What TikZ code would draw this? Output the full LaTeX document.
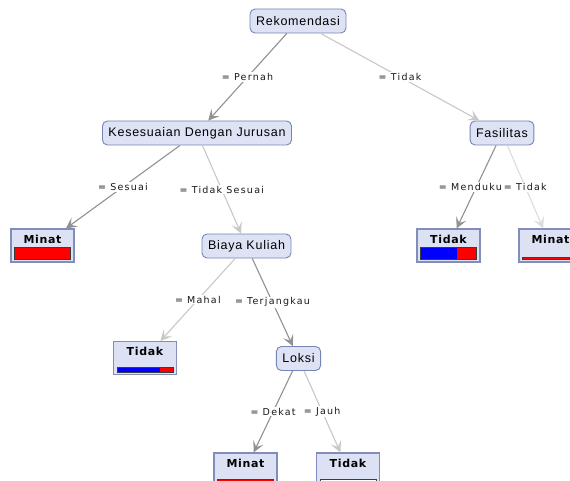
\documentclass[tikz,border=0pt]{standalone}
\usepackage{fontspec}
\setmainfont{Liberation Sans}
\newfontfamily\splitfont[LetterSpace=6]{Liberation Sans}
\newfontfamily\leaffont[LetterSpace=6]{DejaVu Sans}
\newfontfamily\condfont[LetterSpace=13]{DejaVu Sans}
\usetikzlibrary{arrows.meta,calc}

\definecolor{splitfill}{RGB}{221,227,245}
\definecolor{splitborder}{RGB}{118,133,180}
\definecolor{leaffill}{RGB}{220,226,244}
\definecolor{leafborder}{RGB}{130,142,185}
\definecolor{edgedark}{RGB}{145,145,145}
\definecolor{edgelight}{RGB}{200,200,200}
\definecolor{edgelighter}{RGB}{220,220,220}
\definecolor{barred}{RGB}{255,0,0}
\definecolor{barblue}{RGB}{0,0,255}
\definecolor{barborder}{RGB}{60,60,60}

\tikzset{>={Stealth[length=11pt,width=11pt,inset=5pt]}}
\tikzset{
  split/.style={draw=splitborder, fill=splitfill, rounded corners=5pt, minimum height=24pt,
    inner xsep=6pt, inner ysep=0pt, line width=0.9pt, font=\splitfont\fontsize{12.5}{14}\selectfont},
  leaf/.style={draw=leafborder, fill=leaffill, minimum width=63pt, inner xsep=0pt, inner ysep=3pt,
    line width=1.1pt, text height=11pt, text depth=16pt, font=\leaffont\bfseries\fontsize{11}{13}\selectfont},
  cond/.style={fill=white, inner sep=1pt, text=black!90, font=\condfont\fontsize{9.5}{10}\selectfont},
  heavy/.style={->, draw=edgedark, line width=1.1pt},
  light/.style={->, draw=edgelight, line width=1.1pt},
  lighter/.style={->, draw=edgelighter, line width=1.1pt},
  bar/.style={draw=barborder, line width=0.8pt},
}

\begin{document}
\begin{tikzpicture}[x=1pt,y=-1pt]

    \useasboundingbox[fill=white] (0,0) rectangle (570,481);

    % split nodes
    \node[split] (rek) at (298,21) {Rekomendasi};
    \node[split] (kes) at (197,133) {Kesesuaian Dengan Jurusan};
    \node[split] (fas) at (502,133) {Fasilitas};
    \node[split] (biaya) at (246.5,246) {Biaya Kuliah};
    \node[split] (loksi) at (298.5,358.5) {Loksi};

    % leaves
    \node[leaf] (m1) at (42.5,245.5) {Minat};
    \node[leaf] (t1) at (448.5,245.5) {Tidak};
    \node[leaf] (m2) at (550.5,245.5) {Minat};
    \node[leaf] (t2) at (145,358) {Tidak};
    \node[leaf] (m3) at (245.5,469.5) {Minat};
    \node[leaf] (t3) at (348,469.5) {Tidak};

    % class bars
    \draw[bar, fill=barred] ($(m1.south west)+(4,-3)$) rectangle ($(m1.south east)+(-4,-15)$);
    \fill[barred] ($(t1.south west)+(4,-3)$) rectangle ($(t1.south east)+(-4,-15)$);
    \fill[barblue] ($(t1.south west)+(4,-3)$) rectangle ($(t1.south west)+(40.3,-15)$);
    \draw[bar] ($(t1.south west)+(4,-3)$) rectangle ($(t1.south east)+(-4,-15)$);
    \draw[bar, fill=barred] ($(m2.south west)+(4,-3)$) rectangle ($(m2.south east)+(-4,-5)$);
    \fill[barred] ($(t2.south west)+(4,-3)$) rectangle ($(t2.south east)+(-4,-8)$);
    \fill[barblue] ($(t2.south west)+(4,-3)$) rectangle ($(t2.south west)+(47.5,-8)$);
    \draw[bar] ($(t2.south west)+(4,-3)$) rectangle ($(t2.south east)+(-4,-8)$);
    \draw[bar, fill=barred] ($(m3.south west)+(4,-3)$) rectangle ($(m3.south east)+(-4,-7)$);
    \draw[bar, fill=white] ($(t3.south west)+(4,-3)$) rectangle ($(t3.south east)+(-4,-7)$);

    % branches
    \draw[heavy] (rek) -- node[cond] {= Pernah} (kes);
    \draw[light] (rek) -- node[cond] {= Tidak} (fas);
    \draw[heavy] (kes) -- node[cond] {= Sesuai} (m1);
    \draw[light] (kes) -- node[cond] {= Tidak Sesuai} (biaya);
    \draw[light] (biaya) -- node[cond] {= Mahal} (t2);
    \draw[heavy] (biaya) -- node[cond] {= Terjangkau} (loksi);
    \draw[heavy] (loksi) -- node[cond] {= Dekat} (m3);
    \draw[light] (loksi) -- node[cond] {= Jauh} (t3);
    \draw[heavy] (fas) -- node[cond, xshift=-6pt] {= Menduku} (t1);
    \draw[lighter] (fas) -- node[cond] {= Tidak} (m2);

\end{tikzpicture}
\end{document}
